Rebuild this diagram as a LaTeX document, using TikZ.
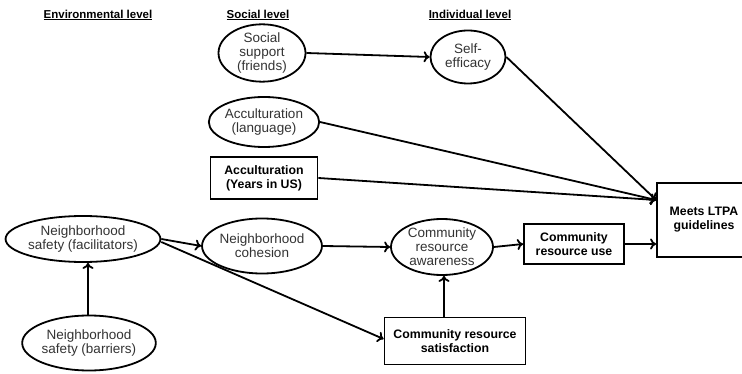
\documentclass[tikz,border=0pt]{standalone}
\usepackage{fontspec}
\setmainfont{Liberation Sans}
\usetikzlibrary{shapes.geometric,arrows.meta}

\tikzset{
  varoval/.style={ellipse,draw,line width=1.8pt,inner sep=0pt,align=center,
    text=black!80,font=\fontsize{13.5}{14}\selectfont},
  varbox/.style={rectangle,draw,line width=1.8pt,inner sep=0pt,align=center,
    font=\fontsize{12.3}{14}\selectfont\bfseries},
  levelhead/.style={font=\fontsize{11.5}{12}\selectfont\bfseries},
  path/.style={line width=1.8pt,-{To[length=6pt,width=11pt,line width=1.8pt]}}
}

\begin{document}
\begin{tikzpicture}[x=1pt,y=-1pt]
  \useasboundingbox (0,0) rectangle (742,374);
  % level headings
  \node[levelhead] (envhead) at (98,15) {\underline{Environmental level}};
  \node[levelhead] (sochead) at (258,15) {\underline{Social level}};
  \node[levelhead] (indhead) at (470,15) {\underline{Individual level}};
  % variables
  \node[varoval,minimum width=87pt,minimum height=48pt] (support) at (262,53) {Social\\support\\(friends)};
  \node[varoval,minimum width=75pt,minimum height=53pt] (selfeff) at (468,57) {Self-\\efficacy};
  \node[varoval,minimum width=95pt,minimum height=50pt] (acclang) at (264,122) {Acculturation\\(language)};
  \node[varbox,minimum width=107pt,minimum height=42pt] (accyears) at (264,178) {Acculturation\\(Years in US)};
  \node[varbox,minimum width=94pt,minimum height=74pt] (meets) at (704,220) {Meets LTPA\\guidelines};
  \node[varoval,minimum width=141pt,minimum height=46pt] (facil) at (83,239) {Neighborhood\\safety (facilitators)};
  \node[varoval,minimum width=115pt,minimum height=55pt] (cohesion) at (262,246) {Neighborhood\\cohesion};
  \node[varoval,minimum width=128pt,minimum height=55pt] (barriers) at (89,343) {Neighborhood\\safety (barriers)};
  \node[varoval,minimum width=102pt,minimum height=56pt] (aware) at (442,247) {Community\\resource\\awareness};
  \node[varbox,minimum width=100pt,minimum height=40pt] (use) at (574,244) {Community\\resource use};
  \node[varbox,minimum width=141pt,minimum height=47pt] (satisf) at (455,341) {Community resource\\satisfaction};
  \coordinate (meetsin) at ([yshift=20pt]meets.west);
  % paths
  \draw[path] (support.east) -- (selfeff.west);
  \draw[path] (selfeff.east) -- (meetsin);
  \draw[path] (acclang.east) -- (meetsin);
  \draw[path] (accyears.east) -- (meetsin);
  \draw[path] (facil.east) -- (cohesion.west);
  \draw[path] ([yshift=-3pt]facil.east) -- ([yshift=2pt]satisf.west);
  \draw[path] (barriers.north -| 88,0) -- (facil.south -| 88,0);
  \draw[path] (cohesion.east) -- (aware.west);
  \draw[path] (satisf.north -| 444,0) -- (aware.south -| 444,0);
  \draw[path] (aware.east) -- (use.west);
  \draw[path] (use.east) -- (use.east -| meets.west);
\end{tikzpicture}
\end{document}
